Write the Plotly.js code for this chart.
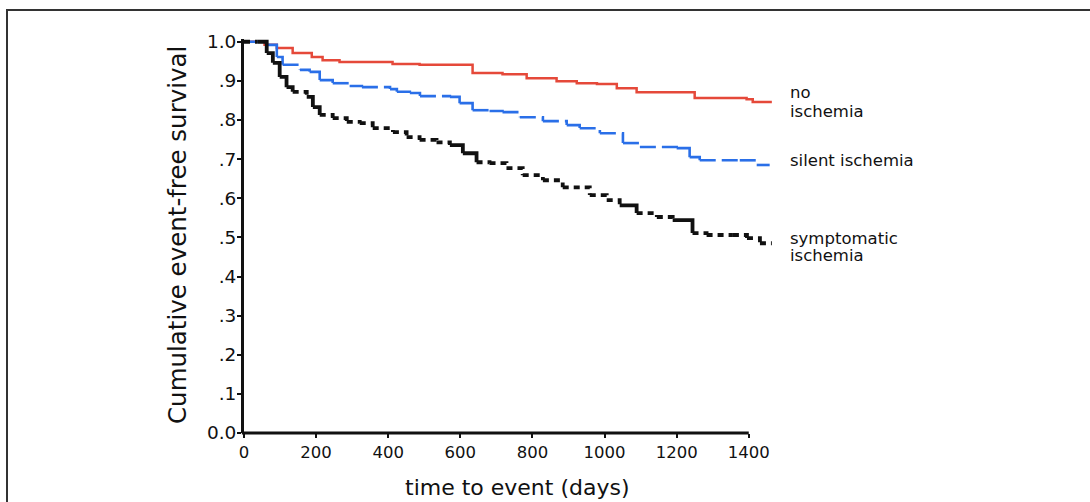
<!DOCTYPE html>
<html>
<head>
<meta charset="utf-8">
<script src="https://cdn.plot.ly/plotly-3.0.1.min.js"></script>
<style>
  html, body { margin: 0; padding: 0; background: #ffffff; }
  #chart { width: 1090px; height: 502px; }
</style>
</head>
<body>
<div id="chart"></div>
<script>
// ---- data (days, cumulative event-free survival) ----
const noIschemiaDays = [0, 43, 57, 91, 135, 188, 218, 265, 357, 412, 487, 579, 634, 717, 784, 867, 923, 979, 1034, 1089, 1203, 1250, 1394, 1411, 1464];
const noIschemiaSurv = [1.0, 1.0, 0.992, 0.984, 0.971, 0.961, 0.953, 0.948, 0.948, 0.943, 0.941, 0.941, 0.920, 0.917, 0.907, 0.899, 0.894, 0.892, 0.881, 0.871, 0.871, 0.856, 0.853, 0.846, 0.846];

const silentDays = [0, 49, 63, 91, 107, 155, 182, 210, 246, 293, 327, 405, 424, 460, 488, 571, 598, 634, 681, 717, 765, 829, 895, 931, 987, 1051, 1098, 1200, 1236, 1264, 1375, 1422, 1458];
const silentSurv = [1.0, 1.0, 0.992, 0.961, 0.941, 0.928, 0.923, 0.902, 0.894, 0.887, 0.884, 0.879, 0.872, 0.869, 0.861, 0.859, 0.843, 0.825, 0.823, 0.820, 0.807, 0.797, 0.787, 0.779, 0.766, 0.741, 0.731, 0.728, 0.705, 0.697, 0.697, 0.685, 0.685];

const symptDays = [0, 38, 63, 80, 99, 118, 135, 174, 191, 210, 246, 285, 321, 357, 413, 451, 487, 534, 571, 607, 645, 681, 728, 773, 829, 884, 959, 1006, 1042, 1089, 1145, 1189, 1244, 1283, 1356, 1395, 1431, 1464];
const symptSurv = [1.0, 1.0, 0.971, 0.946, 0.910, 0.884, 0.872, 0.859, 0.833, 0.813, 0.805, 0.795, 0.792, 0.779, 0.769, 0.756, 0.749, 0.743, 0.736, 0.715, 0.692, 0.690, 0.677, 0.659, 0.646, 0.628, 0.608, 0.595, 0.582, 0.562, 0.552, 0.544, 0.511, 0.506, 0.506, 0.498, 0.485, 0.485];

const xTickVals = [0, 200, 400, 600, 800, 1000, 1200, 1400];
const yTickVals = [0, 0.1, 0.2, 0.3, 0.4, 0.5, 0.6, 0.7, 0.8, 0.9, 1.0];
const yTickText = ["0.0", ".1", ".2", ".3", ".4", ".5", ".6", ".7", ".8", ".9", "1.0"];

const xMax = 1470;
const yMax = 1.007;
const axisEnd = 1400;

const FONT = '"DejaVu Sans", "Liberation Sans", Arial, sans-serif';
const INK = '#111111';

const L = 244, R = 316, T = 39, B = 69;
const plotW = 1090 - L - R, plotH = 502 - T - B;
const px = v => (v - L) / plotW;          // pixel x -> paper x
const py = v => (502 - B - v) / plotH;    // pixel y -> paper y

// Kaplan-Meier steps: each step (flat run then drop) is its own path.
// Long flat runs carry the dash pattern; steep stretches are drawn solid.
function stepTraces(xs, ys, color, width, dash) {
  const out = [];
  for (let i = 0; i < xs.length - 1; i++) {
    const dxp = (xs[i + 1] - xs[i]) * plotW / xMax;
    const dyp = Math.abs(ys[i + 1] - ys[i]) * plotH / yMax;
    const steep = dyp > 0.45 * dxp;
    out.push({
      x: [xs[i], xs[i + 1], xs[i + 1]], y: [ys[i], ys[i], ys[i + 1]],
      mode: 'lines', hoverinfo: 'skip',
      line: { color: color, width: width, dash: steep ? 'solid' : dash }
    });
  }
  return out;
}

const traces = [
  { x: noIschemiaDays, y: noIschemiaSurv, mode: 'lines', line: { shape: 'hv', color: '#e5493a', width: 2.5 }, hoverinfo: 'skip' }
].concat(
  stepTraces(silentDays, silentSurv, '#2a6fe8', 2.6, '16px,6px'),
  stepTraces(symptDays, symptSurv, '#111111', 3.8, '6px,5px')
);

const labelFont = { family: FONT, size: 16.5, color: INK };

const layout = {
  width: 1090, height: 502,
  margin: { l: L, r: R, t: T, b: B, pad: 0 },
  paper_bgcolor: '#ffffff', plot_bgcolor: '#ffffff',
  showlegend: false,
  font: { family: FONT, color: INK },
  xaxis: {
    range: [0, xMax], tickvals: xTickVals, ticktext: xTickVals.map(String),
    showgrid: false, zeroline: false, showline: false,
    ticks: 'outside', ticklen: 4, tickwidth: 2, tickcolor: '#111',
    tickfont: { family: FONT, size: 16.5, color: INK }
  },
  yaxis: {
    range: [0, yMax], tickvals: yTickVals, ticktext: yTickText,
    showgrid: false, zeroline: false, showline: true, linewidth: 3, linecolor: '#111',
    ticks: 'outside', ticklen: 4, tickwidth: 2, tickcolor: '#111',
    ticklabelstandoff: -3,
    tickfont: { family: FONT, size: 18.5, color: INK }
  },
  shapes: [
    { type: 'line', xref: 'paper', yref: 'paper', x0: -0.004, x1: axisEnd / xMax, y0: 0, y1: 0, line: { color: '#111', width: 3 } },
    { type: 'rect', xref: 'paper', yref: 'paper', x0: px(7), x1: px(1110), y0: py(10), y1: py(530), line: { color: '#333', width: 2 }, fillcolor: 'rgba(0,0,0,0)' }
  ],
  annotations: [
    { text: 'time to event (days)', xref: 'paper', yref: 'paper', x: px(517), y: py(488), xanchor: 'center', yanchor: 'middle', showarrow: false, font: { family: FONT, size: 22, color: INK } },
    { text: 'Cumulative event-free survival', textangle: -90, xref: 'paper', yref: 'paper', x: px(177), y: py(235), xanchor: 'center', yanchor: 'middle', showarrow: false, font: { family: FONT, size: 24.5, color: INK } },
    { text: 'no', xref: 'paper', yref: 'paper', x: px(788), y: py(93), xanchor: 'left', yanchor: 'middle', showarrow: false, font: labelFont },
    { text: 'ischemia', xref: 'paper', yref: 'paper', x: px(788), y: py(112), xanchor: 'left', yanchor: 'middle', showarrow: false, font: labelFont },
    { text: 'silent ischemia', xref: 'paper', yref: 'paper', x: px(788), y: py(160), xanchor: 'left', yanchor: 'middle', showarrow: false, font: labelFont },
    { text: 'symptomatic', xref: 'paper', yref: 'paper', x: px(788), y: py(238), xanchor: 'left', yanchor: 'middle', showarrow: false, font: labelFont },
    { text: 'ischemia', xref: 'paper', yref: 'paper', x: px(788), y: py(256), xanchor: 'left', yanchor: 'middle', showarrow: false, font: labelFont }
  ]
};

Plotly.newPlot('chart', traces, layout, { staticPlot: true, displayModeBar: false });
</script>
</body>
</html>
